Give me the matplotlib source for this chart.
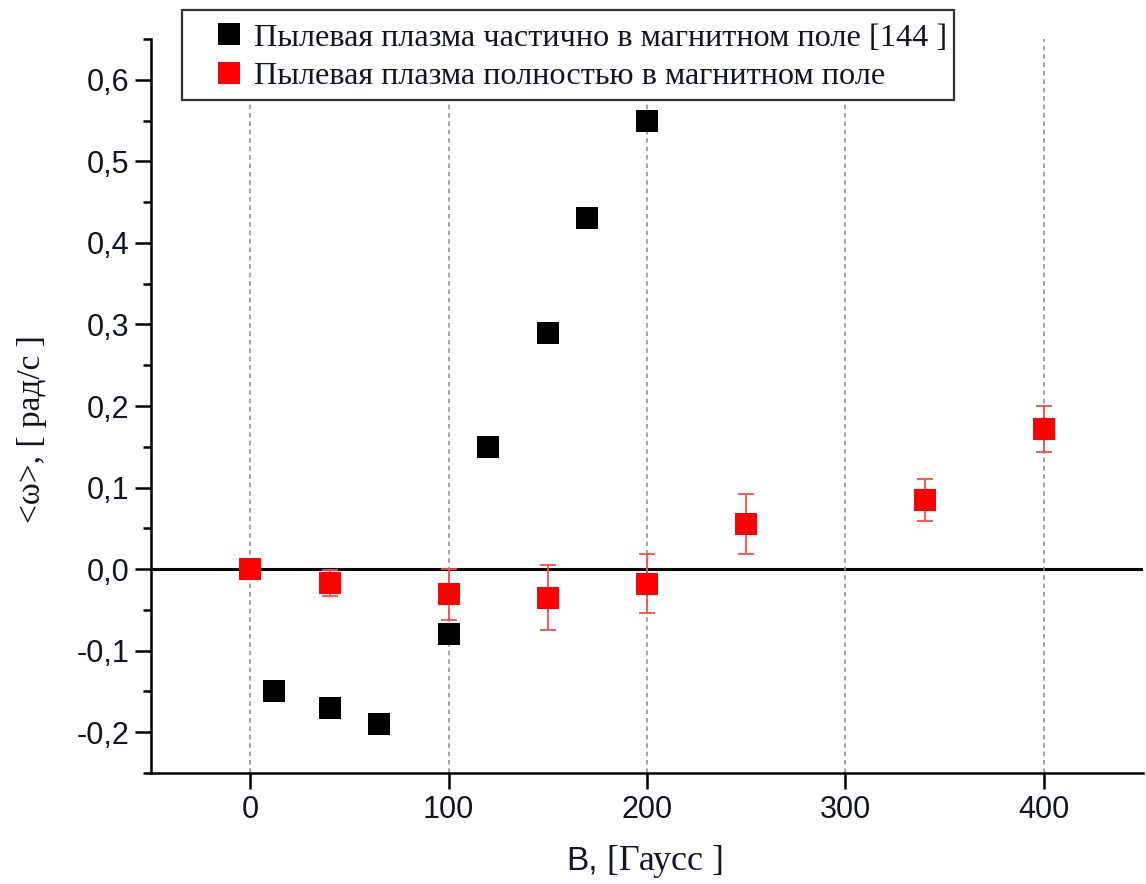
import matplotlib
matplotlib.use("Agg")
import matplotlib.pyplot as plt
from matplotlib.patches import Rectangle
from matplotlib.ticker import FuncFormatter, MultipleLocator

# dust plasma partly inside the magnetic field [144]
b_partial = [12, 40, 65, 100, 120, 150, 170, 200]
w_partial = [-0.15, -0.17, -0.19, -0.08, 0.15, 0.29, 0.43, 0.55]

# dust plasma fully inside the magnetic field
b_full = [0, 40, 100, 150, 200, 250, 340, 400]
w_full = [0.0, -0.017, -0.031, -0.035, -0.018, 0.055, 0.085, 0.172]
w_full_err = [0.0, 0.016, 0.031, 0.040, 0.036, 0.037, 0.026, 0.028]

label_partial = "Пылевая плазма частично в магнитном поле [144 ]"
label_full = "Пылевая плазма полностью в магнитном поле"

SANS = "Liberation Sans"
SERIF = "Liberation Serif"
TXT = "#141420"
W, H = 1146, 884

fig = plt.figure(figsize=(W / 100, H / 100), dpi=100)
ax = fig.add_axes([151 / W, 1 - 773 / H, (1143 - 151) / W, (773 - 39) / H])

ax.axhline(0, color="black", lw=2.2, zorder=1)

ax.plot(b_partial, w_partial, "s", color="black", ms=15.8, mew=0,
        label=label_partial, zorder=3)
ax.errorbar(b_full, w_full, yerr=w_full_err, fmt="none", ecolor="#ff4a4a",
            elinewidth=1.3, capsize=5.8, capthick=1.3, zorder=4)
ax.plot(b_full, w_full, "s", color="#ff0000", ms=15.8, mew=0,
        label=label_full, zorder=5)

ax.set_xlim(-50, 450)
ax.set_ylim(-0.25, 0.65)
ax.xaxis.set_major_locator(MultipleLocator(100))
ax.yaxis.set_major_locator(MultipleLocator(0.1))
ax.yaxis.set_minor_locator(MultipleLocator(0.05))
ax.yaxis.set_major_formatter(FuncFormatter(
    lambda v, p: ("%.1f" % v).replace(".", ",").replace("-0,0", "0,0")))

ax.grid(axis="x", color="#8a8a8a", ls=(0, (3, 2.5)), lw=1.1, zorder=0)

for side in ("top", "right"):
    ax.spines[side].set_visible(False)
for side in ("left", "bottom"):
    ax.spines[side].set_linewidth(1.8)

ax.tick_params(which="major", direction="out", length=11.5, width=1.8,
               labelsize=22, pad=4, labelcolor=TXT)
ax.tick_params(which="minor", direction="out", length=6, width=1.8)
for lab in ax.get_xticklabels() + ax.get_yticklabels():
    lab.set_fontfamily(SANS)

# axis titles
fig.text(0.028, 0.515, "<ω>, [ рад/с ]", rotation=90, ha="center",
         va="center", family=SERIF, fontsize=24, color=TXT)
fig.text(0.522, 0.016, "B,", ha="right", va="baseline", family=SANS,
         fontsize=24, color=TXT)
fig.text(0.530, 0.016, "[Гаусс ]", ha="left", va="baseline", family=SERIF,
         fontsize=26, color=TXT)

# legend box sticks out above the plotting area
box = Rectangle((182 / W, 1 - 100 / H), (954 - 182) / W, 90 / H,
                transform=fig.transFigure, facecolor="white",
                edgecolor="#333333", lw=1.6, clip_on=False, zorder=6)
ax.add_patch(box)
leg = ax.legend(loc="upper left", bbox_to_anchor=(205 / W, 1 - 23 / H),
                bbox_transform=fig.transFigure, borderaxespad=0,
                prop={"family": SERIF, "size": 23.2}, frameon=False,
                handlelength=1.47, handletextpad=0.05, labelspacing=0.27,
                borderpad=0)
leg.set_zorder(7)
for t in leg.get_texts():
    t.set_color(TXT)

fig.savefig("out.png", dpi=100)
